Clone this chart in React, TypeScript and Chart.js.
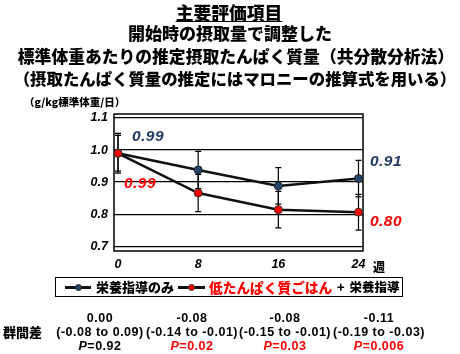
import React, { useEffect, useRef } from "react";
import { Chart, registerables } from "chart.js";
Chart.register(...registerables);

// ---- data ----
const weeks = [0, 8, 16, 24];
const guidanceOnly = [0.99, 0.938, 0.888, 0.911];
const guidanceOnlyErr = [0.062, 0.058, 0.057, 0.057];
const lowProtein = [0.99, 0.866, 0.814, 0.806];
const lowProteinErr = [0.056, 0.058, 0.057, 0.056];
const yTicks = [0.7, 0.8, 0.9, 1.0, 1.1];
const xTicks = [0, 8, 16, 24];
const guidanceLabels = ["0.99", "0.91"];
const lowProteinLabels = ["0.99", "0.80"];
const diffs = ["0.00", "-0.08", "-0.08", "-0.11"];
const cis = ["(-0.08 to 0.09)", "(-0.14 to -0.01)", "(-0.15 to -0.01)", "(-0.19 to -0.03)"];
const pvals = ["0.92", "0.02", "0.03", "0.006"];
const pSignificant = [false, true, true, true];
const titleLines = [
  "主要評価項目",
  "開始時の摂取量で調整した",
  "標準体重あたりの推定摂取たんぱく質量（共分散分析法）",
  "（摂取たんぱく質量の推定にはマロニーの推算式を用いる）",
];
const unitLabel = "（g/kg標準体重/日）";
const weekUnit = "週";
const legendA = "栄養指導のみ";
const legendB = "低たんぱく質ごはん";
const legendBTail = "+ 栄養指導";
const diffLabel = "群間差";

// ---- styles ----
const BLUE = "#24456a";
const BLUE_TEXT = "#1f3864";
const RED = "#ff0000";
const NUM_FONT = "'Liberation Sans', Arial, sans-serif";
const JP_FONT = "'Noto Sans CJK JP', 'Noto Sans', sans-serif";

export default function App() {
  const ref = useRef<HTMLCanvasElement>(null);

  useEffect(() => {
    const errorBars = {
      id: "errorBars",
      beforeDatasetsDraw(chart: any) {
        const { ctx, chartArea, scales } = chart;
        const xs = scales.x;
        const ys = scales.y;
        ctx.save();
        ctx.strokeStyle = "#000";
        ctx.lineWidth = 1.5;
        ctx.strokeRect(chartArea.left, chartArea.top, chartArea.right - chartArea.left, chartArea.bottom - chartArea.top);
        ctx.lineWidth = 1.2;
        const series = [
          [guidanceOnly, guidanceOnlyErr],
          [lowProtein, lowProteinErr],
        ];
        series.forEach(([m, e]) => {
          weeks.forEach((w, i) => {
            const x = xs.getPixelForValue(w);
            const t = ys.getPixelForValue(m[i] + e[i]);
            const b = ys.getPixelForValue(m[i] - e[i]);
            ctx.beginPath();
            ctx.moveTo(x, t);
            ctx.lineTo(x, b);
            ctx.moveTo(x - 3, t);
            ctx.lineTo(x + 3, t);
            ctx.moveTo(x - 3, b);
            ctx.lineTo(x + 3, b);
            ctx.stroke();
          });
        });
        ctx.restore();
      },
    };

    const tickFont = { family: NUM_FONT, size: 12.5, weight: "bold" as const, style: "italic" as const };

    const chart = new Chart(ref.current as HTMLCanvasElement, {
      type: "line",
      data: {
        datasets: [
          {
            label: legendB,
            data: weeks.map((w, i) => ({ x: w, y: lowProtein[i] })),
            borderColor: "#111",
            borderWidth: 2.5,
            pointBackgroundColor: RED,
            pointBorderColor: "#333",
            pointBorderWidth: 1,
            pointRadius: 4,
            tension: 0,
            order: 0,
          },
          {
            label: legendA,
            data: weeks.map((w, i) => ({ x: w, y: guidanceOnly[i] })),
            borderColor: "#111",
            borderWidth: 2.5,
            pointBackgroundColor: BLUE,
            pointBorderColor: "#222",
            pointBorderWidth: 1,
            pointRadius: 4,
            tension: 0,
            order: 1,
          },
        ],
      },
      options: {
        animation: false,
        responsive: false,
        layout: { padding: { left: 0, top: 114, right: 97, bottom: 73 } },
        plugins: { legend: { display: false }, tooltip: { enabled: false } },
        scales: {
          x: {
            type: "linear",
            min: -0.4,
            max: 24.45,
            afterBuildTicks: (s: any) => {
              s.ticks = xTicks.map((v) => ({ value: v }));
            },
            afterFit: (s: any) => {
              s.height = 30;
            },
            grid: { display: false, drawTicks: false },
            border: { display: false },
            ticks: { font: tickFont, color: "#000", padding: 6, callback: (v: any) => String(v) },
          },
          y: {
            type: "linear",
            min: 0.685,
            max: 1.1125,
            afterBuildTicks: (s: any) => {
              s.ticks = yTicks.map((v) => ({ value: v }));
            },
            afterFit: (s: any) => {
              s.width = 114;
            },
            grid: { color: "#000", lineWidth: 1.2, drawTicks: false },
            border: { display: false },
            ticks: { font: tickFont, color: "#000", padding: 6, callback: (v: any) => Number(v).toFixed(1) },
          },
        },
      },
      plugins: [errorBars],
    });
    return () => chart.destroy();
  }, []);

  const abs = (extra: React.CSSProperties): React.CSSProperties => ({
    position: "absolute",
    whiteSpace: "nowrap",
    fontWeight: 900,
    ...extra,
  });

  const titleSpecs = [
    { cx: 229, cy: 11.5, size: 17.8, underline: true },
    { cx: 230, cy: 33, size: 17, underline: false },
    { cx: 236, cy: 55.5, size: 16.8, underline: false },
    { cx: 235, cy: 77.5, size: 16.4, underline: false },
  ];
  const colX = [100, 192, 285, 379];
  const numStyle = (cx: number, top: number, color: string): React.CSSProperties =>
    abs({ left: cx - 60, width: 120, textAlign: "center", top, lineHeight: "16px", fontFamily: NUM_FONT, fontWeight: "bold", fontSize: 12.5, color, letterSpacing: "0.5px" });

  return (
    <div style={{ position: "fixed", left: 0, top: 0, width: 460, height: 354, background: "#fff", overflow: "hidden" }}>
      <canvas ref={ref} width={460} height={354} style={{ position: "absolute", left: 0, top: 0 }} />
      {titleLines.map((t, i) => (
        <div
          key={i}
          style={abs({
            left: titleSpecs[i].cx - 300,
            width: 600,
            top: titleSpecs[i].cy - 12,
            height: 24,
            lineHeight: "24px",
            textAlign: "center",
            fontFamily: JP_FONT,
            fontSize: titleSpecs[i].size,
            color: "#000",
            textDecoration: titleSpecs[i].underline ? "underline" : "none",
            textUnderlineOffset: "1px",
          })}
        >
          {t}
        </div>
      ))}
      <div style={abs({ left: 24, top: 94, lineHeight: "15px", fontFamily: JP_FONT, fontSize: 10.5, color: "#000" })}>{unitLabel}</div>
      {/* value annotations */}
      <div style={abs({ left: 148 - 30, width: 60, textAlign: "center", top: 127, lineHeight: "18px", fontFamily: NUM_FONT, fontWeight: "bold", fontSize: 15.5, fontStyle: "italic", color: BLUE_TEXT, letterSpacing: "0.5px" })}>{guidanceLabels[0]}</div>
      <div style={abs({ left: 140 - 30, width: 60, textAlign: "center", top: 174, lineHeight: "18px", fontFamily: NUM_FONT, fontWeight: "bold", fontSize: 15.5, fontStyle: "italic", color: RED, letterSpacing: "0.5px" })}>{lowProteinLabels[0]}</div>
      <div style={abs({ left: 386 - 30, width: 60, textAlign: "center", top: 152, lineHeight: "18px", fontFamily: NUM_FONT, fontWeight: "bold", fontSize: 15.5, fontStyle: "italic", color: BLUE_TEXT, letterSpacing: "0.5px" })}>{guidanceLabels[1]}</div>
      <div style={abs({ left: 386 - 30, width: 60, textAlign: "center", top: 212, lineHeight: "18px", fontFamily: NUM_FONT, fontWeight: "bold", fontSize: 15.5, fontStyle: "italic", color: RED, letterSpacing: "0.5px" })}>{lowProteinLabels[1]}</div>
      <div style={abs({ left: 373, top: 259, lineHeight: "16px", fontFamily: JP_FONT, fontSize: 12, color: "#000" })}>{weekUnit}</div>
      {/* legend */}
      <div style={{ position: "absolute", left: 55, top: 277, width: 348, height: 20, border: "1.5px solid #000", boxSizing: "border-box" }} />
      <div style={{ position: "absolute", left: 65, top: 286, width: 26, height: 2.5, background: "#111" }} />
      <div style={{ position: "absolute", left: 74.5, top: 283.5, width: 7, height: 7, borderRadius: "50%", background: BLUE, border: "1px solid #222", boxSizing: "border-box" }} />
      <div style={abs({ left: 96, top: 279, lineHeight: "16px", fontFamily: JP_FONT, fontSize: 13, color: "#000" })}>{legendA}</div>
      <div style={{ position: "absolute", left: 178, top: 286, width: 27, height: 2.5, background: "#111" }} />
      <div style={{ position: "absolute", left: 188, top: 283.5, width: 7, height: 7, borderRadius: "50%", background: RED, border: "1px solid #333", boxSizing: "border-box" }} />
      <div style={abs({ left: 209, top: 278, lineHeight: "18px", fontFamily: JP_FONT, fontSize: 13.7, color: RED })}>{legendB}</div>
      <div style={abs({ left: 337, top: 279, lineHeight: "16px", fontFamily: JP_FONT, fontSize: 12.5, color: "#000", wordSpacing: "2px" })}>{legendBTail}</div>
      {/* group difference table */}
      <div style={abs({ left: 3, top: 324, lineHeight: "16px", fontFamily: JP_FONT, fontSize: 13, color: "#000" })}>{diffLabel}</div>
      {colX.map((cx, i) => (
        <React.Fragment key={i}>
          <div style={numStyle(cx, 310, "#000")}>{diffs[i]}</div>
          <div style={numStyle(cx, 324, "#000")}>{cis[i]}</div>
          <div style={numStyle(cx, 338, pSignificant[i] ? RED : "#000")}>
            <span style={{ fontStyle: "italic" }}>P</span>={pvals[i]}
          </div>
        </React.Fragment>
      ))}
    </div>
  );
}
